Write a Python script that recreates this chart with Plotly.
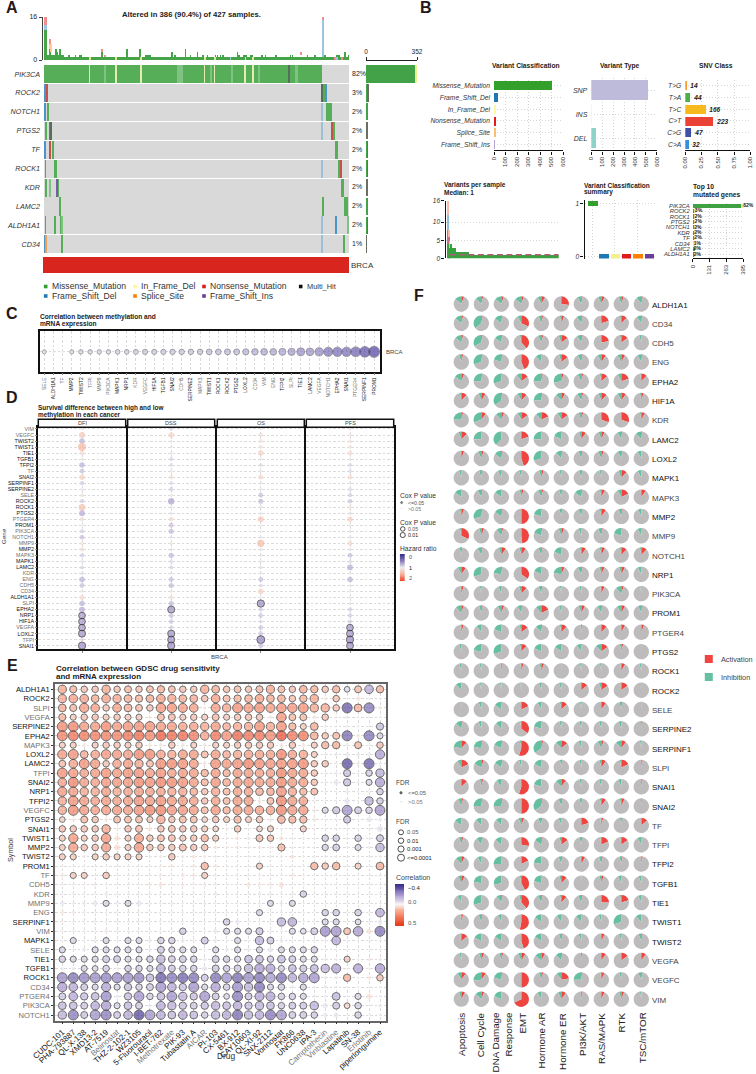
import numpy as np
import plotly.graph_objects as go

W, H = 756, 1074
FONT = "Liberation Sans, Arial, sans-serif"

# ------------------------------------------------------------------ data
DARK_GENES = {"ALDH1A1","EPHA2","HIF1A","LAMC2","LOXL2","MAPK1","MMP2","NRP1","PROM1","PTGS2","ROCK1","ROCK2",
              "SERPINE2","SERPINF1","SNAI1","SNAI2","TFPI2","TGFB1","TIE1","TWIST1","TWIST2"}

# A: oncoplot
onco_genes = ["PIK3CA","ROCK2","NOTCH1","PTGS2","TF","ROCK1","KDR","LAMC2","ALDH1A1","CD34"]
onco_pct = ["82%","3%","2%","2%","2%","2%","2%","2%","2%","1%"]
ev_missense = [(0,0,389),(1,2,1.5),(1,391,3),(2,5.5,1.5),(2,395,8),(3,1.5,1.5),(3,9,2),(3,405,2),(4,11,3.5),(4,407.5,4),
               (5,1.5,1),(5,14,3.5),(5,412,2.5),(6,1.5,1.5),(6,19.5,1.5),(6,416,4),(7,21,2.5),(7,389.5,1.5),(7,420,6),
               (8,1.5,1),(8,14.5,1),(8,23,1.5),(9,25,1.5),(9,419.5,2)]
ev_missense_light = [(0,85,2),(0,186,9),(0,232,3),(0,262,3),(0,300,2),(0,352,3),(6,6.5,3.5),(8,24.5,1.5),(8,424,3)]
ev_fs_del = [(1,0,2),(1,394,2),(2,0,1.5),(4,0,1.5),(8,407.5,1.5),(9,0,1.5)]
ev_fs_del_light = [(2,389,2),(3,389,1.5),(5,389,1.5),(8,389,2),(9,389,2)]
ev_in_frame = [(0,63,1),(0,100,1),(0,135,1),(0,224,1),(0,238,1),(0,281,1),(0,292,1)]
ev_nonsense = [(1,3.5,1.5),(3,403,2),(3,7.5,1.5),(4,7,1.5),(5,414.5,1.5)]
ev_splice = [(9,1.5,1.5)]
ev_fs_ins = [(6,18,1.5)]
ev_multi = [(0,342.5,1.5),(1,389,2),(3,9,1)]

top_mis_start = [0,3,28,389,7,15,17,21,23,34,43,49,51,142,145,147,182,204,222,228,239,242,246,250,272,279,282,289,291,304,309,324,344,347,368,378,392,409,412,426,178,214,270,420,115,133,197,80]
top_mis_len = [3,25,361,38,2,2,1,2,1,1,1,1,1,1,1,1,1,1,1,1,1,1,1,1,1,1,1,1,1,1,1,1,1,1,1,1,1,1,1,1,1,1,1,1,1,1,1,2]
top_mis_val = [11,2,1,1,4,4,3,4,2,2,2,2,2,2,2,2,2,2,2,2,2,2,2,2,2,2,2,2,2,2,2,2,2,2,2,2,2,2,2,2,3,3,3,3,4,4,4,3]
top_fsd_start, top_fsd_len, top_fsd_base, top_fsd_val = [0,389,260,409], [3,2,1,1], [11,1,0,0], [2,14,1,1]
top_non_start, top_non_len, top_non_base, top_non_val = [0,389,7,80,84,359,406,416], [3,2,2,2,1,1,1,1], [13,15,6,3,1,2,0,0], [3,1,2,1,1,1,1,1]
top_spl_start, top_spl_len, top_spl_base, top_spl_val = [7,9], [2,2], [4,3], [2,3]
top_ifd_idx = [63,100,135,224,238,281,292]

right_mis = [345,12,9,6,8,8,6,12,8,5]
right_oth = [7,3,0,3,1,3,3,0,1,1]

# B
vc_names = ["Missense_Mutation","Frame_Shift_Del","In_Frame_Del","Nonsense_Mutation","Splice_Site","Frame_Shift_Ins"]
vc_vals = [505,33,14,17,9,5]
vc_colors = ["#33A02C","#1F78B4","#FFF7A0","#E31A1C","#FDBF6F","#B9A3D6"]
vt_names, vt_vals = ["SNP","INS","DEL"], [525,2,50]
snv_names = ["T>G","T>A","T>C","C>T","C>G","C>A"]
snv_counts = [14,44,166,223,47,32]
snv_colors = ["#F39C2D","#4DAF4A","#F7BA1E","#EA4335","#3F51A5","#3490D8"]
burden_len = [3,3,2,8,14,51,346]
burden_mis = [4,4,3,4,3,2,1]
burden_non = [4,2,0,0,0,0,0]
burden_fsd = [4,0,0,0,0,0,0]
burden_spl = [4,2,2,0,0,0,0]
summary_pos = ["Missense_Mutation","Frame_Shift_Del","In_Frame_Del","Nonsense_Mutation","Splice_Site","Frame_Shift_Ins"]
summary_med = [1,0,0,0,0,0]
summary_col = ["#33A02C","#1F78B4","#F5F08F","#E31A1C","#FF7F00","#6A3D9A"]
top10_genes = ["PIK3CA","ROCK2","ROCK1","PTGS2","NOTCH1","KDR","TF","CD34","LAMC2","ALDH1A1"]
top10_mis = [374,14,9,9,9,9,9,6,9,8]
top10_oth = [21,3,5,6,3,3,4,2,0,1]
top10_pct = ["82%","3%","2%","2%","2%","2%","2%","1%","2%","2%"]

# C
meth_genes = ["SELE","ALDH1A1","TF","MMP2","TWIST2","TFPI","MMP9","PIK3CA","MAPK1","NRP1","KDR","VEGFC","HIF1A","TGFB1","SNAI2","CDH5",
              "SERPINE2","MAPK3","TWIST1","ROCK1","ROCK2","PTGS2","LOXL2","CD34","VIM","ENG","TFPI2","SLPI","TIE1","LAMC2","VEGFA","NOTCH1",
              "EPHA2","SNAI1","PTGER4","SERPINF1","PROM1"]
meth_corr = [-.03,-.01,-.01,-.04,-.05,-.05,-.05,-.05,-.06,-.06,-.07,-.08,-.08,-.08,-.09,-.09,-.09,-.09,-.10,-.10,-.11,-.11,-.12,-.13,
             -.14,-.14,-.15,-.16,-.19,-.18,-.20,-.24,-.25,-.25,-.27,-.30,-.32]

# D
surv_genes = ["VIM","VEGFC","TWIST2","TWIST1","TIE1","TGFB1","TFPI2","TF","SNAI2","SERPINF1","SERPINE2","SELE","ROCK2","ROCK1","PTGS2","PTGER4",
              "PROM1","PIK3CA","NOTCH1","MMP9","MMP2","MAPK3","MAPK1","LAMC2","KDR","ENG","CDH5","CD34","ALDH1A1","SLPI","EPHA2","NRP1","HIF1A",
              "VEGFA","LOXL2","TFPI","SNAI1"]
surv_facets = ["DFI","DSS","OS","PFS"]
hr_dfi = [1.05,1.3,.75,1.45,1.18,1.08,.75,.8,1.25,.85,.95,1.1,.85,1.35,.72,1.15,.97,.85,.8,1.12,1.15,.85,.95,.88,.92,.75,.8,.96,1.2,.75,.72,.65,.65,.65,.62,.9,.6]
hr_dss = [.9,1.25,.95,.96,.95,.88,.9,.95,1.15,.9,.85,1.08,.68,.95,.95,1.18,.8,.78,.93,1.1,.94,.78,.9,.88,.95,.8,.78,1.08,1.15,.78,.62,.8,.82,.85,.62,.62,.6]
hr_os = [.97,1.15,1.12,1.12,1.25,.96,.9,.95,1.2,.95,.95,.8,.78,.93,.96,1.3,.98,.98,.95,1.4,.95,.95,.95,.92,1.08,.8,.9,1.25,.98,.6,.85,.82,.9,.82,.82,.55,.8]
hr_pfs = [1.05,1.1,1.1,1.1,1.18,.95,.88,.9,1.18,.95,.9,.85,.82,1.12,.93,1.25,.97,.96,.95,1.2,.95,.8,.9,.72,.97,.75,.96,.98,.97,.95,.85,.85,.85,.65,.63,.6,.63]

# E
drug_genes = ["ALDH1A1","ROCK2","SLPI","VEGFA","SERPINE2","EPHA2","MAPK3","LOXL2","LAMC2","TFPI","SNAI2","NRP1","TFPI2","VEGFC","PTGS2","SNAI1","TWIST1","MMP2",
              "TWIST2","PROM1","TF","CDH5","KDR","MMP9","ENG","SERPINF1","VIM","MAPK1","SELE","TIE1","TGFB1","ROCK1","CD34","PTGER4","PIK3CA","NOTCH1"]
drugs = ["CUDC-101","PHA-793887","QL-X-138","XMD13-2","AT-7519","Belinostat","THZ-2-102-1","WZ3105","5-Fluorouracil","I-BET-762","Methotrexate","PIK-93",
         "Tubastatin A","AICAR","PI-103","CX-5461","BX-912","CAY10603","QL-XI-92","SNX-2112","Vorinostat","FK866","UNC0638","IPA-3","Camptothecin","Vinblastine",
         "Lapatinib","SN-38","Erlotinib","piperlongumine"]
drug_gray = {"Belinostat","Methotrexate","AICAR","Camptothecin","Vinblastine","Erlotinib"}
drug_corr = [
 [20,15,12,12,20,12,14,12,14,16,14,12,12,20,18,12,14,12, 15,20,14,12,18,16,12,16,-8,14,-22,16],
 [20,22,22,18,22,20,18,16,18,22,20,18,18,12,22,14,16,18, 22,18,18,12,16,20,3,12,1,4,1,1],
 [18,15,25,22,12,22,18,14,12,26,26,24,22,3,24,20,28,25, 28,24,26,26,28,20,20,12,-42,18,-35,3],
 [15,10,12,12,10,12,10,10,3,14,14,10,12,10,14,10,12,12, 12,3,26,14,14,3,12,2,-3,1,-1,-1],
 [30,32,25,25,30,25,28,28,28,25,25,22,22,20,25,18,20,20, 28,20,28,16,10,18,2,-1,-1,-1,-1,-15],
 [33,38,36,35,34,33,38,40,32,45,40,40,35,22,38,28,42,38, 38,30,48,36,36,18,12,14,-38,3,-36,-10],
 [10,10,3,10,12,12,10,12,3,3,12,3,10,3,10,10,12,12, 12,12,3,12,3,10,16,16,-2,14,-1,12],
 [25,28,18,22,26,25,24,30,30,22,20,24,24,14,24,18,20,22, 22,22,32,22,20,10,-2,-3,-4,-3,-3,-25],
 [14,22,28,25,12,22,25,20,14,30,30,28,24,3,28,25,28,32, 28,26,28,28,30,12,12,2,-45,3,-42,-2],
 [28,26,22,25,28,25,28,28,24,28,22,25,24,16,24,16,24,24, 22,22,32,25,24,12,-1,-2,-15,-2,-12,-20],
 [22,32,24,22,26,25,26,30,28,32,30,28,24,15,26,18,24,26, 24,24,30,24,24,12,-1,-5,-16,-2,-10,-25],
 [25,25,20,20,24,20,22,24,22,22,20,20,18,12,20,14,22,22, 18,18,28,20,16,14,-1,-1,-3,-1,-1,-12],
 [20,28,25,22,25,22,25,28,25,28,25,25,22,12,22,14,24,24, 3,14,32,24,22,2,-1,-1,-5,-1,-20,-12],
 [20,30,25,22,24,25,24,28,32,32,26,26,24,14,25,16,24,24, 22,22,32,25,25,3,-10,-15,-28,-14,-12,-28],
 [8,3,14,12,3,14,14,14,10,20,12,14,14,8,12,10,16,10, 12,3,18,16,16,3,-1,-2,-15,-1,-5,-3],
 [12,12,12,12,20,2,12,14,4,12,14,12,12,10,8,2,12,1, 8,10,1,1,10,1,-1,-1,-1,-1,-1,-6],
 [10,25,10,12,26,5,10,24,12,14,14,10,12,16,10,1,3,2, 14,12,4,2,2,1,-12,-12,-1,-12,-1,-14],
 [10,25,12,12,24,6,10,26,12,12,12,14,12,12,3,2,3,2, 3,2,15,2,2,1,-11,-13,-1,-10,-1,-20],
 [10,10,2,10,12,10,10,10,2,2,12,2,3,2,2,1,1,1, 1,1,1,4,1,1,1,1,1,1,-1,-2],
 [1,-2,1,1,-1,1,-1,-1,1,2,3,1,3,16,3,1,1,1, 10,1,1,1,1,16,12,17,1,10,1,18],
 [3,10,10,1,12,1,1,1,2,3,1,3,3,10,2,1,2,2, 2,1,1,3,2,1,1,1,1,1,1,2],
 [1,2,1,3,1,1,2,1,3,4,1,3,1,3,2,1,1,4, 3,3,5,1,1,1,1,1,1,1,1,1],
 [-1,-1,-1,-1,-3,-1,-1,-1,-2,-1,-1,-2,-1,-1,-3,-1,-1,1, -3,-3,-1,-3,-12,-1,-1,-2,-1,-1,-1,-1],
 [-4,-2,-3,-5,-10,-3,-10,-5,-2,-2,-2,-1,-1,-2,-1,-1,-1,-1, -2,-10,-3,-10,-1,-1,-1,-1,-1,-1,-1,-1],
 [3,3,1,1,1,1,1,1,-1,-1,-1,-1,-1,-2,-1,-1,-1,-1, -10,-1,-1,-1,-1,-1,-12,-12,-1,-12,-1,-22],
 [1,-1,-1,-2,-1,-1,-1,-1,-1,-1,-1,-1,-1,-1,-1,-12,-4,-1, -1,-1,-20,-22,-1,-1,-10,-10,-1,-8,-1,-4],
 [1,1,-1,-1,3,1,-1,1,1,-1,-1,-12,1,-1,-4,-10,-10,-10, -15,-2,-1,-10,-8,-14,-30,-28,14,-26,5,-36],
 [-1,-10,-1,-3,-10,-1,-10,-10,-3,-12,-12,-3,-2,-14,-3,-1,-10,-1, -20,-14,-3,-1,-2,-2,-2,-22,-1,-1,-1,-1],
 [-10,-2,-3,-10,-10,-10,-10,-10,-3,-14,-10,-10,-10,-1,-10,-3,-10,-3, -10,-5,-10,-10,-10,-12,-1,-1,-1,-1,-1,-1],
 [-12,-10,-10,-10,-14,-14,-10,-10,-12,-20,-14,-14,-12,-3,-14,-12,-10,-18, -18,-12,-18,-14,-10,-10,-3,-2,10,-1,3,-2],
 [-2,-3,-10,-8,-12,-2,-12,-12,-10,-22,-14,-12,-12,-5,-14,-12,-14,-20, -26,-24,-10,-18,-14,-18,-20,-24,-1,-24,-1,-26],
 [-30,-36,-32,-30,-32,-30,-30,-32,-18,-42,-35,-40,-36,-14,-36,-28,-38,-30, -36,-26,-36,-22,-26,-28,-3,-3,16,-1,3,12],
 [-25,-22,-14,-10,-24,-10,-16,-12,-14,-28,-22,-16,-28,-10,-25,-12,-30,-20, -36,-10,-12,-3,-10,-2,-3,-2,-1,-1,-1,-1],
 [-14,-22,-16,-18,-30,-3,-16,-28,-12,-18,-28,-20,-16,-28,-14,-8,-34,-14, -24,-24,-12,-12,-10,-3,-2,-18,-1,-10,5,-1],
 [-18,-18,-14,-22,-26,-10,-18,-14,-3,-22,-20,-16,-14,-16,-20,-18,-22,-16, -20,-18,-12,-14,-14,-20,-5,-14,8,-12,-1,-3],
 [-20,-34,-14,-28,-34,-14,-22,-46,-28,-22,-18,-22,-18,-12,-20,-22,-38,-20, -22,-35,-28,-14,-14,-12,-4,-5,-1,-12,-1,-1],
]

# F
path_genes = ["ALDH1A1","CD34","CDH5","ENG","EPHA2","HIF1A","KDR","LAMC2","LOXL2","MAPK1","MAPK3","MMP2","MMP9","NOTCH1","NRP1","PIK3CA","PROM1","PTGER4",
              "PTGS2","ROCK1","ROCK2","SELE","SERPINE2","SERPINF1","SLPI","SNAI1","SNAI2","TF","TFPI","TFPI2","TGFB1","TIE1","TWIST1","TWIST2","VEGFA","VEGFC","VIM"]
pathways = ["Apoptosis","Cell Cycle","DNA Damage<br>Response","EMT","Hormone AR","Hormone ER","PI3K/AKT","RAS/MAPK","RTK","TSC/mTOR"]
activation = [
 [6,4,5,5,8,27,3,7,5,3],[4,3,2,32,4,6,3,20,12,2],[4,3,2,38,4,15,3,22,15,1],[4,2,2,44,1,15,3,10,8,2],[6,2,1,15,3,5,4,14,20,12],
 [12,9,2,12,2,8,4,12,10,5],[4,10,6,15,18,15,4,30,30,8],[13,1,0,20,1,1,10,7,2,2],[6,5,3,45,1,2,3,5,2,0],[1,2,1,1,5,1,2,1,12,0],
 [1,3,1,5,4,2,2,8,18,10],[6,2,3,50,1,2,2,10,3,0],[32,6,4,48,2,6,1,3,1,1],[2,3,10,10,3,1,10,8,12,12],[10,0,2,35,1,7,3,7,8,1],
 [5,1,1,12,2,0,0,7,5,1],[5,3,6,2,18,1,8,2,8,2],[5,1,1,15,2,12,2,12,8,6],[1,1,1,12,0,1,1,15,4,1],[1,0,3,5,6,1,1,1,8,0],
 [0,1,0,1,1,1,14,15,15,1],[1,1,1,18,1,13,1,10,2,1],[3,0,1,35,1,1,1,1,1,2],[12,3,2,55,4,14,0,5,10,1],[18,5,2,0,1,2,1,10,18,3],
 [13,4,1,55,0,10,1,1,0,3],[4,2,3,50,3,3,2,10,7,2],[0,0,1,6,2,1,20,4,2,14],[4,2,1,28,3,15,2,18,15,1],[7,1,1,18,0,2,8,3,3,3],
 [7,1,0,42,1,12,0,5,1,0],[1,0,3,38,3,12,3,25,20,1],[4,3,1,53,0,1,1,0,1,0],[14,0,1,45,0,3,0,7,1,3],[1,6,4,9,8,2,2,10,15,10],
 [10,10,2,50,4,22,2,7,1,2],[8,6,0,68,0,10,3,7,6,0]]
inhibition = [
 [14,12,14,14,8,1,8,7,6,10],[14,36,15,8,6,3,10,1,3,10],[14,33,15,3,7,6,9,1,3,5],[5,30,20,0,12,5,8,8,8,8],[15,25,30,10,25,28,8,3,8,2],
 [3,6,35,8,25,12,9,6,8,3],[24,30,12,8,12,8,6,1,1,3],[6,25,38,2,25,18,5,6,8,12],[2,7,15,1,30,12,6,7,8,8],[5,5,7,5,5,4,5,4,6,8],
 [15,8,15,4,7,5,15,3,8,1],[3,30,15,0,20,4,6,3,6,7],[3,5,10,0,18,6,6,7,20,8],[4,8,6,4,7,18,3,3,3,3],[8,30,22,1,18,22,8,4,5,8],
 [2,3,6,5,6,3,4,2,12,2],[12,5,8,8,12,5,6,8,9,7],[2,10,18,4,12,3,2,1,2,0],[5,22,30,3,18,15,10,12,3,0],[4,4,2,2,4,0,3,3,2,4],
 [12,3,3,2,5,5,2,5,2,0],[0,6,15,1,8,3,3,1,4,0],[12,6,12,2,20,4,4,5,6,0],[22,22,18,3,35,12,6,8,12,3],[8,17,15,5,17,3,4,4,3,0],
 [1,3,10,1,20,12,4,5,7,0],[7,25,25,0,35,6,4,3,3,0],[15,12,12,6,7,6,1,2,3,0],[5,10,14,1,15,4,4,2,2,8],[12,8,25,0,22,6,2,5,4,0],
 [7,22,28,3,20,4,1,4,7,6],[8,30,10,5,8,3,7,1,3,7],[2,6,7,0,15,10,12,6,30,12],[2,17,15,0,15,5,6,1,5,6],[4,5,4,7,14,12,1,1,1,1],
 [9,27,20,0,5,10,25,2,5,7],[5,13,18,0,8,7,1,1,5,3]]

# ------------------------------------------------------------------ helpers
fig = go.Figure()
layout_axes = {}
shapes, annots = [], []
_n = [1]

def axes(x0, x1, y0, y1, xopt=None, yopt=None):
    _n[0] += 1
    n = _n[0]
    base = dict(showgrid=False, zeroline=False, showline=False, ticks="", showticklabels=False, fixedrange=True, automargin=False)
    xo = {**base, **(xopt or {})}
    yo = {**base, **(yopt or {})}
    layout_axes[f"xaxis{n}"] = dict(domain=[x0/W, x1/W], anchor=f"y{n}", **xo)
    layout_axes[f"yaxis{n}"] = dict(domain=[1-y1/H, 1-y0/H], anchor=f"x{n}", **yo)
    return f"x{n}", f"y{n}"

def txt(x, y, s, size=7, color="#222", anchor="left", va="middle", angle=0, align=None):
    al = align or ("center" if anchor == "center" else anchor)
    annots.append(dict(x=x/W, y=1-y/H, xref="paper", yref="paper", text=s, showarrow=False,
                       xanchor=anchor, yanchor=va, textangle=angle, borderpad=0, borderwidth=0, align=al,
                       font=dict(size=size, color=color, family=FONT)))

def rect(x0, y0, x1, y1, fill, line=None, lw=0, kind="rect"):
    shapes.append(dict(type=kind, xref="paper", yref="paper", x0=x0/W, x1=x1/W, y0=1-y0/H, y1=1-y1/H,
                       fillcolor=fill, line=dict(color=line or fill, width=lw), layer="above"))

def gene_lab(g, dark="#111", gray="#707070"):
    return f'<span style="color:{dark if g in DARK_GENES else gray}">{g}</span>'

def hbars(events, color, xa, ya, width=0.96):
    fig.add_trace(go.Bar(orientation="h", y=[e[0] for e in events], x=[e[2] for e in events], base=[e[1] for e in events],
                         width=width, marker=dict(color=color, line=dict(width=0)), xaxis=xa, yaxis=ya, hoverinfo="skip"))

def vbars(start, length, base, val, color, xa, ya):
    fig.add_trace(go.Bar(x=[s+l/2 for s, l in zip(start, length)], width=length, base=base, y=val,
                         marker=dict(color=color, line=dict(width=0)), xaxis=xa, yaxis=ya, hoverinfo="skip"))

# panel letters
for letter, x, y in [("A",12,8),("B",426,8),("C",12,313),("D",12,397),("E",12,665),("F",419,296)]:
    txt(x, y, f"<b>{letter}</b>", 16, "#231815", "center")

# ------------------------------------------------------------------ A
txt(191, 14, "<b>Altered in 386 (90.4%) of 427 samples.</b>", 7.7, "#222", "center")
xa, ya = axes(42.6, 349, 17, 60,
              dict(range=[-2, 427]),
              dict(range=[0, 16], showline=True, linecolor="#444", linewidth=1, ticks="outside", ticklen=3, tickcolor="#444",
                   tickwidth=1, showticklabels=True, tickvals=[0, 16], tickfont=dict(size=7, color="#222")))
vbars(top_mis_start, top_mis_len, [0]*len(top_mis_start), top_mis_val, "#45A348", xa, ya)
vbars(top_fsd_start, top_fsd_len, top_fsd_base, top_fsd_val, "#9CC6E0", xa, ya)
vbars(top_non_start, top_non_len, top_non_base, top_non_val, "#F28E8E", xa, ya)
vbars(top_spl_start, top_spl_len, top_spl_base, top_spl_val, "#FBD08A", xa, ya)
vbars(top_ifd_idx, [1]*len(top_ifd_idx), [0]*len(top_ifd_idx), [1]*len(top_ifd_idx), "#E3E58F", xa, ya)

row_c0, row_pitch = 74.0, 18.9
xa, ya = axes(44, 349, 64.8, 254,
              dict(range=[0, 427]),
              dict(range=[(254-row_c0)/row_pitch, (64.8-row_c0)/row_pitch], showticklabels=True,
                   tickvals=list(range(10)), ticktext=[f"<i>{g}</i>" for g in onco_genes],
                   tickfont=dict(size=7.2, color="#333"), ticklabelstandoff=3))
hbars([(i, 0, 427) for i in range(10)], "#D9D9D9", xa, ya)
hbars(ev_missense, "#57AE59", xa, ya)
hbars(ev_missense_light, "#80C282", xa, ya)
hbars(ev_fs_del, "#4D94C6", xa, ya)
hbars(ev_fs_del_light, "#9CBFD8", xa, ya)
hbars(ev_in_frame, "#E4ECB4", xa, ya)
hbars(ev_nonsense, "#C7504A", xa, ya)
hbars(ev_splice, "#F0A050", xa, ya)
hbars(ev_fs_ins, "#7C5BA6", xa, ya)
hbars(ev_multi, "#55705A", xa, ya)
for i, p in enumerate(onco_pct):
    txt(351.5, row_c0+row_pitch*i-0.5, p, 7, "#222")

xa, ya = axes(366, 417, 61, 254,
              dict(range=[0, 352], side="top", showline=True, linecolor="#222", linewidth=1, ticks="outside", ticklen=3, tickcolor="#222",
                   showticklabels=True, tickvals=[0, 352], tickfont=dict(size=6.5, color="#222")),
              dict(range=[(254-row_c0)/row_pitch, (61-row_c0)/row_pitch]))
hbars([(i, 0, v) for i, v in enumerate(right_mis)], "#43A247", xa, ya, 0.92)
hbars([(0, right_mis[0], right_oth[0])], "#F0EE8A", xa, ya, 0.92)
hbars([(i, right_mis[i], right_oth[i]) for i in range(1, 10)], "#6A6F62", xa, ya, 0.92)

rect(43, 257, 349, 273, "#D8261F")
txt(351, 265.5, "BRCA", 8, "#333")
legend_a = [(45.7,286.5,"#33A02C","Missense_Mutation"),(45.7,296,"#1F78B4","Frame_Shift_Del"),(135,286.5,"#FFF7A0","In_Frame_Del"),
            (135,296,"#FF7F00","Splice_Site"),(204,286.5,"#E31A1C","Nonsense_Mutation"),(204,296,"#6A3D9A","Frame_Shift_Ins"),(300.7,286.5,"#111","Multi_Hit")]
for x, y, c, s in legend_a:
    rect(x-1.8, y-1.8, x+1.8, y+1.8, c)
    txt(x+5.8, y, s, 8.6 if s != "Multi_Hit" else 7.4, "#333")

# ------------------------------------------------------------------ B
grid = dict(showgrid=True, gridcolor="#D5D5D5", griddash="1px,2px", gridwidth=0.7)
def xval(rng, vals):
    return dict(range=rng, showline=True, linecolor="#111", linewidth=1.2, ticks="outside", ticklen=3, tickcolor="#111", tickwidth=1,
                showticklabels=True, tickvals=vals, tickangle=-90, tickfont=dict(size=6, color="#333"), **grid)

def yc(names, size=6.7):
    n = len(names)
    return dict(range=[n-0.5, -0.5], showticklabels=True, tickvals=list(range(n)), ticktext=[f"<i>{s}</i>" for s in names],
                tickfont=dict(size=size, color="#333"), ticklabelstandoff=3, **grid)

txt(526, 65.5, "<b>Variant Classification</b>", 6.7, "#222", "center")
xa, ya = axes(494, 563, 79.8, 150.4, xval([0, 600], [0,100,200,300,400,500,600]), yc(vc_names))
fig.add_trace(go.Bar(orientation="h", y=list(range(6)), x=vc_vals, width=0.76, marker=dict(color=vc_colors, line=dict(width=0)),
                     xaxis=xa, yaxis=ya, hoverinfo="skip"))

txt(619.5, 66, "<b>Variant Type</b>", 6.7, "#222", "center")
xa, ya = axes(591.3, 656.7, 78, 150.4, xval([0, 600], [0,100,200,300,400,500,600]), yc(vt_names, 7))
fig.add_trace(go.Bar(orientation="h", y=list(range(3)), x=vt_vals, width=0.84, marker=dict(color=["#BEBADA","#F7F7C0","#8DD3C7"], line=dict(width=0)),
                     xaxis=xa, yaxis=ya, hoverinfo="skip"))

txt(715.5, 66, "<b>SNV Class</b>", 6.7, "#222", "center")
xa, ya = axes(685.3, 750.3, 79.8, 150.4, xval([0, 1], [0,.25,.5,.75,1]), yc(snv_names))
layout_axes[xa.replace("x","xaxis")].update(ticktext=["0.00","0.25","0.50","0.75","1.00"])
fig.add_trace(go.Bar(orientation="h", y=list(range(6)), x=[c/sum(snv_counts) for c in snv_counts], width=0.76,
                     marker=dict(color=snv_colors, line=dict(width=0)), text=[f"<b><i>{c}</i></b>" for c in snv_counts], textposition="outside",
                     textfont=dict(size=6.5, color="#222"), cliponaxis=False, xaxis=xa, yaxis=ya, hoverinfo="skip"))

txt(443.5, 185, "<b>Variants per sample</b>", 6.5)
txt(443.5, 192, "<b>Median: 1</b>", 6.5)
xa, ya = axes(445.5, 558.7, 200.5, 258.3,
              dict(range=[-7, 427], showgrid=False),
              dict(range=[0, 16], showline=True, linecolor="#111", linewidth=1.2, ticks="outside", ticklen=3, tickcolor="#111",
                   showticklabels=True, tickvals=[0,5,10,16], ticktext=["<i>0</i>","<i>5</i>","<i>10</i>","<i>16</i>"], tickfont=dict(size=6.5, color="#333"), **grid))
starts = [int(s) for s in np.cumsum([0]+burden_len[:-1])]
base = [0]*len(burden_len)
for vals, col in [(burden_mis,"#3A9F3E"),(burden_non,"#C77088"),(burden_fsd,"#8FBEDD"),(burden_spl,"#F8B9A8")]:
    vbars(starts, burden_len, base, vals, col, xa, ya)
    base = [b+v for b, v in zip(base, vals)]
fig.add_trace(go.Scatter(x=[starts[3], 427], y=[1, 1], mode="lines", line=dict(color="#B5597A", width=1.4, dash="6px,3.5px"),
                         xaxis=xa, yaxis=ya, hoverinfo="skip"))

txt(584, 185, "<b>Variant Classification</b>", 6.5)
txt(584, 192, "<b>summary</b>", 6.5)
xa, ya = axes(584.5, 655, 200, 258.5,
              dict(range=[-0.7, 5.55], **grid),
              dict(range=[-0.03, 1.06], showline=True, linecolor="#111", linewidth=1.4, ticks="outside", ticklen=3, tickcolor="#111",
                   showticklabels=True, tickvals=[0,1], ticktext=["<i>0</i>","<i>1</i>"], tickfont=dict(size=6.5, color="#333"), **grid))
fig.add_trace(go.Bar(x=list(range(6)), y=[0.09]*6, base=[m-0.045 for m in summary_med], width=0.84,
                     marker=dict(color=summary_col, line=dict(width=0)), xaxis=xa, yaxis=ya, hoverinfo="skip"))

txt(692.7, 186.5, "<b>Top 10</b>", 6.7)
txt(692.7, 194.5, "<b>mutated genes</b>", 6.7)
xa, ya = axes(692.7, 743.3, 203, 258.3,
              dict(range=[0, 395], showline=True, linecolor="#111", linewidth=1.2, ticks="outside", ticklen=3, tickcolor="#111",
                   showticklabels=True, tickvals=[0,131,263,395], tickangle=-90, tickfont=dict(size=6, color="#333"), **grid),
              yc(top10_genes, 5.8))
layout_axes[ya.replace("y","yaxis")].update(range=[9.73, -0.5], ticklabelstandoff=2)
hbars([(i, 0, v) for i, v in enumerate(top10_mis)], "#3FA143", xa, ya, 0.8)
hbars([(i, top10_mis[i], top10_oth[i]) for i in range(10)], "#E9E58F", xa, ya, 0.8)
fig.add_trace(go.Scatter(x=[a+b for a, b in zip(top10_mis, top10_oth)], y=list(range(10)), mode="text", text=[f"<b>{p}</b>" for p in top10_pct],
                         textposition="middle right", textfont=dict(size=5, color="#222"), cliponaxis=False, xaxis=xa, yaxis=ya, hoverinfo="skip"))

# ------------------------------------------------------------------ C
txt(39.5, 317, "<b>Correlation between methylation and</b>", 6.6)
txt(39.5, 324.3, "<b>mRNA expression</b>", 6.6)
frame = dict(showline=True, mirror=True, linewidth=1.5, linecolor="#111")
dash = dict(showgrid=True, gridcolor="#DADADA", griddash="2.5px,2px", gridwidth=0.7)
xa, ya = axes(39.5, 380, 331, 371.7,
              dict(range=[-0.524, 36.65], tickvals=list(range(37)), ticktext=[gene_lab(g) for g in meth_genes], tickangle=-90, showticklabels=True,
                   ticks="outside", ticklen=2, tickcolor="#888", tickwidth=0.6, tickfont=dict(size=4.9), **frame, **dash),
              dict(range=[-1, 1.05], tickvals=[0], ticktext=['<span style="color:#444">BRCA</span>'], side="right", showticklabels=True,
                   tickfont=dict(size=6), ticklabelstandoff=3, **frame, **dash))
fig.add_trace(go.Scatter(x=list(range(37)), y=[0]*37, mode="markers", xaxis=xa, yaxis=ya, hoverinfo="skip",
                         marker=dict(size=[3.2+abs(v)*25 for v in meth_corr], color=meth_corr, cmin=-.35, cmax=0,
                                     colorscale=[[0,"#3F2F96"],[.5,"#9F90CC"],[1,"#F0F0F0"]], showscale=False,
                                     line=dict(color="#555", width=[0 if abs(v) < .02 else .7 for v in meth_corr]))))

# ------------------------------------------------------------------ D
D_SCALE = [[0,"#2E2A85"],[.3,"#9C8CC6"],[.5,"#EFEFEF"],[.75,"#F6AE95"],[1,"#EE3A22"]]
txt(38.3, 408.3, "<b>Survival difference between high and low</b>", 6.4)
txt(38.3, 414.6, "<b>methylation in each cancer</b>", 6.4)
facet_x = [(38.3,125.7),(127.7,214.7),(217.3,304.3),(306.3,393.7)]
surv_vals = [hr_dfi, hr_dss, hr_os, hr_pfs]
for k, (name, (x0, x1), hr) in enumerate(zip(surv_facets, facet_x, surv_vals)):
    rect(x0, 419.3, x1, 427.3, "#FFFFFF", "#111", 1.5)
    txt((x0+x1)/2, 423.3, name, 5.6, "#444", "center")
    yopt = dict(range=[36.6, -0.28], tickvals=list(range(37)), **frame, **dash)
    if k == 0:
        yopt.update(showticklabels=True, ticktext=[gene_lab(g) for g in surv_genes], tickfont=dict(size=5.3), ticks="outside", ticklen=1.5, tickcolor="#888", tickwidth=.5)
    xa, ya = axes(x0, x1, 427.3, 649.3,
                  dict(range=[-1, 1], tickvals=[0], ticks="outside", ticklen=2, tickcolor="#888", tickwidth=.6, **frame, **dash), yopt)
    fig.add_trace(go.Scatter(x=[0]*37, y=list(range(37)), mode="markers", xaxis=xa, yaxis=ya, hoverinfo="skip",
                             marker=dict(size=[2.5+12*abs(v-1) for v in hr], color=hr, cmin=0, cmax=2, colorscale=D_SCALE, showscale=False,
                                         line=dict(color="#2A2A2A", width=[1 if v < .66 else 0 for v in hr]))))
txt(4, 536, "Gene", 6.2, "#333", "center", angle=-90)
txt(219.3, 657, "BRCA", 6, "#444", "center")
txt(400, 496, "Cox P value", 6.7, "#333")
rect(400.6, 501.6, 402.6, 503.6, "#777", "#444", .5, "circle")
txt(408, 503, "&lt;=0.05", 5.2, "#555")
rect(400.9, 507.9, 402.3, 509.3, "#E4E4E4", None, 0, "circle")
txt(408, 508.7, "&gt;0.05", 5.2, "#777")
txt(400, 522, "Cox P value", 6.7, "#333")
rect(400.5, 526.7, 405, 531.2, "rgba(0,0,0,0)", "#222", .8, "circle")
txt(408, 529, "0.05", 5.2, "#555")
rect(400.2, 532.5, 405.3, 537.6, "rgba(0,0,0,0)", "#222", .8, "circle")
txt(408, 535, "0.01", 5.2, "#222")
txt(400, 548.7, "Hazard ratio", 6.7, "#333")
scale_hr = [float(v) for v in np.linspace(0, 2, 40)]
xa, ya = axes(399.7, 405, 554, 581, dict(range=[-.5, .5]), dict(range=[2, 0]))
fig.add_trace(go.Heatmap(z=[[v] for v in scale_hr], x=[0], y=scale_hr, zmin=0, zmax=2, colorscale=D_SCALE, showscale=False, xaxis=xa, yaxis=ya, hoverinfo="skip"))
for lab, y, c in [("0",557,"#555"),("1",568,"#111"),("2",578,"#555")]:
    txt(409, y, lab, 5.5, c)

# ------------------------------------------------------------------ E
E_SCALE = [[0,"#3A2C8C"],[.25,"#A796CF"],[.5,"#F7F5F5"],[.65,"#F9AE93"],[1,"#E8401F"]]
txt(55.5, 668.5, "<b>Correlation between GDSC drug sensitivity</b>", 8)
txt(55.5, 676.5, "<b>and mRNA expression</b>", 8)
frame_e = dict(showline=True, mirror=True, linewidth=1.5, linecolor="#666")
xa, ya = axes(55, 385.7, 684, 1020.7,
              dict(range=[(55-62.3)/10.955, (385.7-62.3)/10.955], tickvals=list(range(30)),
                   ticktext=[f'<span style="color:{"#777" if d in drug_gray else "#111"}">{d}</span>' for d in drugs],
                   tickangle=-42, showticklabels=True, ticks="outside", ticklen=2, tickcolor="#333", tickwidth=.6, tickfont=dict(size=8), **frame_e, **dash),
              dict(range=[(1020.7-689.3)/9.306, (684-689.3)/9.306], tickvals=list(range(36)), ticktext=[gene_lab(g) for g in drug_genes],
                   showticklabels=True, ticks="outside", ticklen=2, tickcolor="#333", tickwidth=.6, tickfont=dict(size=7.6), **frame_e, **dash))
ex, ey, ev, es, el = [], [], [], [], []
for i, row in enumerate(drug_corr):
    for j, r in enumerate(row):
        ex.append(j); ey.append(i); ev.append(r/100)
        a = abs(r)
        es.append(min(10, 4+0.21*a) if a >= 8 else 2.2+0.6*a)
        el.append(1.0 if a >= 8 else 0)
fig.add_trace(go.Scatter(x=ex, y=ey, mode="markers", xaxis=xa, yaxis=ya, hoverinfo="skip",
                         marker=dict(size=es, color=ev, cmin=-.5, cmax=.5, colorscale=E_SCALE, showscale=False, line=dict(color="#333", width=el))))
txt(10, 850, "Symbol", 7.2, "#333", "center", angle=-90)
txt(226, 1056, "Drug", 8.4, "#333", "center")
txt(395.7, 782, "FDR", 6.5, "#444")
rect(399.8, 791.6, 402.2, 794, "#777", "#333", .5, "circle")
txt(408, 792.7, "&lt;=0.05", 5.8, "#555")
rect(400.1, 800.8, 401.9, 802.6, "#E6E6E6", None, 0, "circle")
txt(408, 801.7, "&gt;0.05", 5.8, "#777")
txt(395.7, 821.7, "FDR", 6.5, "#444")
for y, d, lab, c in [(832.3,5,"0.05","#555"),(840.7,5.5,"0.01","#222"),(849,6.2,"0.001","#222"),(857.7,7,"&lt;=0.0001","#222")]:
    rect(401-d/2, y-d/2, 401+d/2, y+d/2, "rgba(0,0,0,0)", "#222", .8, "circle")
    txt(407, y, lab, 5.9, c)
txt(395.7, 877.7, "Correlation", 7, "#444")
scale_r = [float(v) for v in np.linspace(-.52, .55, 50)]
xa, ya = axes(395, 404, 884, 926, dict(range=[-.5, .5]), dict(range=[.55, -.52]))
fig.add_trace(go.Heatmap(z=[[v] for v in scale_r], x=[0], y=scale_r, zmin=-.5, zmax=.5, colorscale=E_SCALE, showscale=False, xaxis=xa, yaxis=ya, hoverinfo="skip"))
for lab, y, c in [("−0.4",888,"#222"),("0.0",902.3,"#555"),("0.5",923,"#555")]:
    txt(407.5, y, lab, 6, c)

# ------------------------------------------------------------------ F
pie_x0, pie_dx, pie_y0, pie_dy, pie_d = 461.3, 20.0, 304.0, 19.31, 15.4
for i, g in enumerate(path_genes):
    cy = pie_y0+pie_dy*i
    for j in range(10):
        cx = pie_x0+pie_dx*j
        a, b = activation[i][j], inhibition[i][j]
        fig.add_trace(go.Pie(values=[a, b, 100-a-b], sort=False, direction="counterclockwise", rotation=0,
                             marker=dict(colors=["#EE4540","#66BFA0","#BDBBBB"], line=dict(width=0)), textinfo="none", hoverinfo="skip", showlegend=False,
                             domain=dict(x=[(cx-pie_d/2)/W, (cx+pie_d/2)/W], y=[1-(cy+pie_d/2)/H, 1-(cy-pie_d/2)/H])))
    txt(652.3, cy+1, g, 8, "#111" if g in DARK_GENES else "#444")
col_x = [460.7,480,501.7,522.3,541.7,561.7,581.7,600.7,621.7,642]
for x, p in zip(col_x, pathways):
    txt(x, 1012.7, p, 9.8, "#222", "center", "top", -90, "right")
rect(704.8, 655, 712.8, 663, "#EE4540")
txt(720.5, 659, "Activation", 7.3, "#444")
rect(704.8, 673, 712.8, 681, "#66BFA0")
txt(720.5, 677, "Inhibition", 7.3, "#444")

fig.update_layout(template="none", width=W, height=H, autosize=False, margin=dict(l=0, r=0, t=0, b=0, pad=0), showlegend=False, barmode="overlay", bargap=0,
                  paper_bgcolor="white", plot_bgcolor="white", font=dict(family=FONT), shapes=shapes, annotations=annots, **layout_axes)
fig.write_html("out.html", config=dict(displayModeBar=False, responsive=False),
               post_script="document.body.style.margin='0';document.documentElement.style.overflow='hidden';")
